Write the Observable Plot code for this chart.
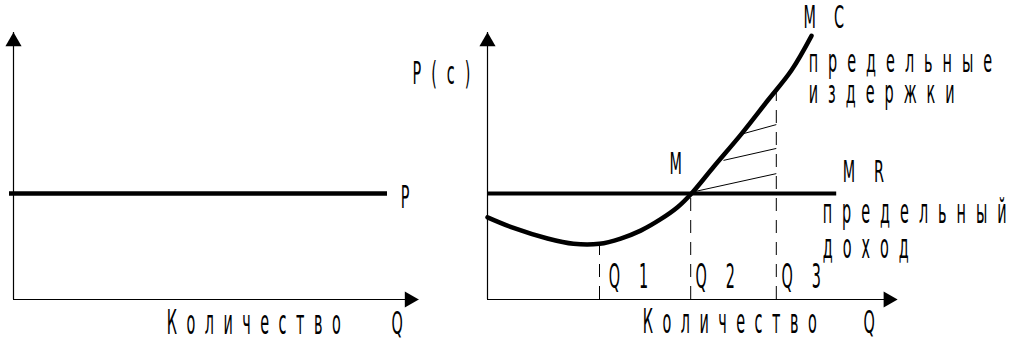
<!DOCTYPE html>
<html><head><meta charset="utf-8">
<script src="https://cdn.jsdelivr.net/npm/d3@7"></script>
<script src="https://cdn.jsdelivr.net/npm/@observablehq/plot@0.6"></script>
<style>
body{margin:0;background:#fff;}
#wrap{position:relative;width:1021px;height:342px;background:#fff;}
</style></head><body><div id="wrap"></div>
<script>
// ---------- data ----------
const marketPrice = 4;                 // P = MR level
const leftPriceLineQ = [-0.1, 9.35];   // extent of the P line (left panel)
const mrLineQ = [0, 8.73];             // extent of the MR line (right panel)
const mcQ = [0, 0.65, 1.5, 2.15, 2.8, 3.33, 3.83, 4.33, 4.75, 5.1, 5.65, 6.35, 7.0, 7.6, 8.1];
const mcP = [3.1, 2.7, 2.3, 2.1, 2.1, 2.3, 2.6, 3.03, 3.48, 4.0, 5.0, 6.25, 7.5, 8.65, 9.95];
const qNames = ["Q1", "Q2", "Q3"];
const qValues = [2.8, 5.08, 7.22];
const qTops = [2.1, 4.0, 7.8];
const hatchQa = [5.2, 5.9, 6.4];
const hatchPa = [4.08, 5.25, 6.26];
const hatchQb = [7.22, 7.22, 7.22];
const hatchPb = [4.75, 5.7, 6.6];
const axisPMax = 10.08, axisQMaxLeft = 10.13, axisQMaxRight = 10.25;

// labels
const leftLabels = [
  {q: 3.83, p: -1.32, t: "Количество"},
  {q: 9.45, p: -1.32, t: "Q"},
  {q: 9.68, p: 3.47, t: "P"}
];
const rightLabels = [
  {q: -1.875, p: 8.15, t: "P(c)"},
  {q: 4.55, p: 4.72, t: "M"},
  {q: 7.9, p: 10.23, t: "MC"},
  {q: 8.03, p: 8.6, t: "предельные"},
  {q: 8.03, p: 7.4, t: "издержки"},
  {q: 8.88, p: 4.42, t: "MR"},
  {q: 8.38, p: 2.9, t: "предельный"},
  {q: 8.38, p: 1.55, t: "доход"},
  {q: 3.03, p: 0.42, t: "Q1"},
  {q: 5.2, p: 0.42, t: "Q2"},
  {q: 7.35, p: 0.42, t: "Q3"},
  {q: 3.88, p: -1.25, t: "Количество"},
  {q: 9.4, p: -1.25, t: "Q"}
];

// ---------- text styling: [vertical stretch, letter spacing] ----------
const font = "'Liberation Sans Narrow', 'DejaVu Sans Condensed', 'Liberation Sans', sans-serif";
const textStyles = {
  "Количество": [2.15, 9.5], "Q": [2.0, 0], "P": [2.0, 0], "P(c)": [2.0, 10], "M": [1.9, 0],
  "MC": [2.0, 18], "MR": [1.9, 19],
  "предельные": [1.95, 10], "издержки": [1.95, 10], "предельный": [2.15, 10], "доход": [2.15, 10],
  "Q1": [2.1, 19], "Q2": [2.1, 19], "Q3": [2.1, 19]
};
function stretchText(svg) {
  d3.select(svg).selectAll("text").each(function() {
    const s = textStyles[this.textContent];
    if (!s) return;
    const t = this.getAttribute("transform") || "";
    this.setAttribute("transform", `${t} scale(1,${s[0]})`);
    this.setAttribute("letter-spacing", s[1]);
  });
}

const common = {
  width: 1021, height: 342,
  y: {domain: [0, 10], range: [299, 34]},
  axis: null,
  style: {position: "absolute", left: "0px", top: "0px", background: "transparent", overflow: "visible"}
};

function axesMarks(qMax) {
  return [
    Plot.ruleX([0], {y1: 0, y2: axisPMax, stroke: "black", strokeWidth: 1.2}),
    Plot.ruleY([0], {x1: 0, x2: qMax, stroke: "black", strokeWidth: 1.2}),
    Plot.dot([{q: 0, p: axisPMax}], {x: "q", y: "p", symbol: "triangle", r: 6, fill: "black", stroke: "none", dy: 9.2}),
    Plot.dot([{q: qMax, p: 0}], {x: "q", y: "p", symbol: "triangle", r: 6, fill: "black", stroke: "none", rotate: 90, dx: -9.2})
  ];
}
function textMark(data) {
  return Plot.text(data, {x: "q", y: "p", text: "t", textAnchor: "start", lineAnchor: "bottom",
    fontSize: 16, fontFamily: font, fill: "black"});
}

// ---------- left panel ----------
const left = Plot.plot({
  ...common,
  x: {domain: [0, 10.5], range: [13, 433]},
  marks: [
    ...axesMarks(axisQMaxLeft),
    Plot.ruleY([marketPrice], {x1: leftPriceLineQ[0], x2: leftPriceLineQ[1], stroke: "black", strokeWidth: 4.5}),
    textMark(leftLabels)
  ]
});

// ---------- right panel ----------
const mc = mcQ.map((q, i) => ({q, p: mcP[i]}));
const qLines = qNames.map((n, i) => ({n, q: qValues[i], top: qTops[i]}));
const hatch = hatchQa.map((q, i) => ({q1: q, p1: hatchPa[i], q2: hatchQb[i], p2: hatchPb[i]}));

const right = Plot.plot({
  ...common,
  x: {domain: [0, 10], range: [487, 887]},
  marks: [
    ...axesMarks(axisQMaxRight),
    Plot.ruleX(qLines, {x: "q", y1: 0, y2: "top", stroke: "black", strokeWidth: 1, strokeDasharray: "13,9"}),
    Plot.link(hatch, {x1: "q1", y1: "p1", x2: "q2", y2: "p2", stroke: "black", strokeWidth: 1}),
    Plot.ruleY([marketPrice], {x1: mrLineQ[0], x2: mrLineQ[1], stroke: "black", strokeWidth: 4}),
    Plot.line(mc, {x: "q", y: "p", curve: "catmull-rom", stroke: "black", strokeWidth: 4.5}),
    textMark(rightLabels)
  ]
});

stretchText(left);
stretchText(right);
const wrap = document.getElementById("wrap");
wrap.appendChild(left);
wrap.appendChild(right);
</script>
</body></html>
